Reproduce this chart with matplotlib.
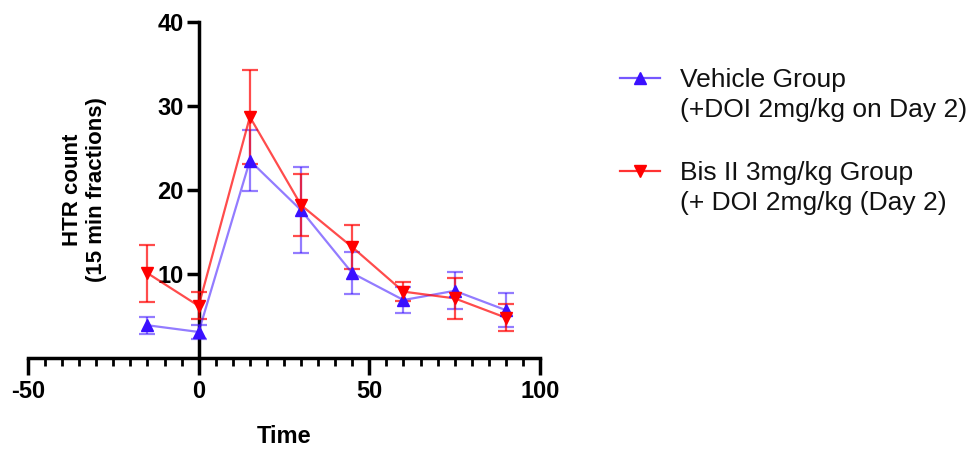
import matplotlib
matplotlib.use("Agg")
import matplotlib.pyplot as plt
from matplotlib.lines import Line2D
from matplotlib.ticker import MultipleLocator, FixedLocator

time = [-15, 0, 15, 30, 45, 60, 75, 90]
vehicle_mean = [3.9, 3.1, 23.5, 17.6, 10.1, 6.9, 8.0, 5.7]
vehicle_sem = [1.0, 0.8, 3.6, 5.1, 2.5, 1.5, 2.2, 2.0]
bis_mean = [10.1, 6.2, 28.7, 18.2, 13.2, 7.9, 7.1, 4.8]
bis_sem = [3.4, 1.6, 5.6, 3.7, 2.6, 1.1, 2.4, 1.6]

labels = ["Vehicle Group\n(+DOI 2mg/kg on Day 2)",
          "Bis II 3mg/kg Group\n(+ DOI 2mg/kg (Day 2)"]
x_ticks = [-50, 0, 50, 100]
y_ticks = [10, 20, 30, 40]

blue = "#3A10FF"
red = "#FF0000"

plt.rcParams['font.family'] = ['Liberation Sans', 'DejaVu Sans']
plt.rcParams['axes.unicode_minus'] = False

fig = plt.figure(figsize=(9.8, 4.54), dpi=100)
ax = fig.add_axes([28/980, 1-358/454, 512/980, 336/454])

ax.errorbar(time, vehicle_mean, yerr=vehicle_sem, color=blue, alpha=0.55,
            lw=1.6, capsize=6, capthick=1.6, elinewidth=1.6, zorder=3)
ax.plot(time, vehicle_mean, color=blue, marker='^', ms=9, lw=0, zorder=4)
ax.errorbar(time, bis_mean, yerr=bis_sem, color=red, alpha=0.7,
            lw=1.6, capsize=6, capthick=1.6, elinewidth=1.6, zorder=3)
ax.plot(time, bis_mean, color=red, marker='v', ms=9, lw=0, zorder=4)

ax.set_xlim(-50, 100)
ax.set_ylim(0, 40)
for s in ['top', 'right']:
    ax.spines[s].set_visible(False)
ax.spines['left'].set_position(('data', 0))
ax.spines['left'].set_linewidth(2.5)
ax.spines['bottom'].set_linewidth(2.5)

ax.xaxis.set_major_locator(FixedLocator(x_ticks))
ax.xaxis.set_minor_locator(MultipleLocator(5))
ax.yaxis.set_major_locator(FixedLocator(y_ticks))
ax.tick_params(axis='x', which='major', length=12, width=2.5, direction='out', pad=4)
ax.tick_params(axis='x', which='minor', length=6, width=2, direction='out')
ax.tick_params(axis='y', which='major', length=9, width=2.5, direction='out', pad=2)
for lab in ax.get_xticklabels() + ax.get_yticklabels():
    lab.set_fontsize(17)
    lab.set_fontweight('bold')

ax.set_xlabel("Time", fontsize=17, fontweight='bold', labelpad=16)
ax.set_ylabel("HTR count\n(15 min fractions)", fontsize=16, fontweight='bold',
              linespacing=1.2)
ax.yaxis.set_label_coords((107-28)/512, 0.5)

# legend
entries = [(blue, '^', 78, labels[0], 0.7), (red, 'v', 171, labels[1], 0.8)]
for col, mk, ypx, txt, al in entries:
    yf = 1 - ypx/454
    fig.add_artist(Line2D([620/980, 660/980], [yf, yf], color=col, lw=1.6,
                          alpha=al, transform=fig.transFigure))
    fig.add_artist(Line2D([640/980], [yf], color=col, marker=mk, ms=9, lw=0,
                          transform=fig.transFigure))
    fig.text(680/980, yf + 10/454, txt, fontsize=19, ha='left', va='top',
             linespacing=1.3, color='#111111')

fig.savefig("out.png", dpi=100)
